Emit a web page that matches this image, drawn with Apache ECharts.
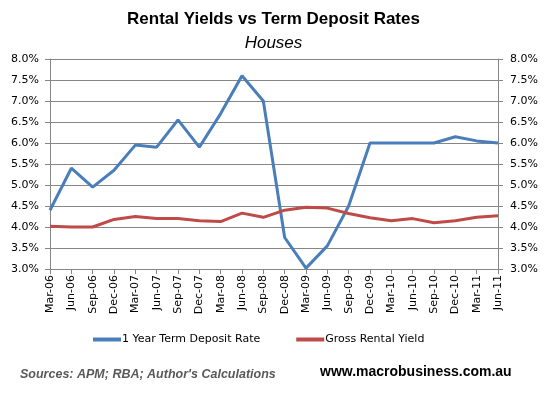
<!DOCTYPE html>
<html>
<head>
<meta charset="utf-8">
<script src="https://cdn.jsdelivr.net/npm/echarts@6/dist/echarts.min.js"></script>
<style>html,body{margin:0;padding:0;background:#fff}#c{width:547px;height:394px}</style>
</head>
<body>
<div id="c"></div>
<script>
var categories = ['Mar-06','Jun-06','Sep-06','Dec-06','Mar-07','Jun-07','Sep-07','Dec-07','Mar-08','Jun-08','Sep-08','Dec-08','Mar-09','Jun-09','Sep-09','Dec-09','Mar-10','Jun-10','Sep-10','Dec-10','Mar-11','Jun-11'];
var termDeposit = [4.4, 5.4, 4.95, 5.35, 5.95, 5.9, 6.55, 5.9, 6.7, 7.6, 7.0, 3.75, 3.02, 3.55, 4.5, 6.0, 6.0, 6.0, 6.0, 6.15, 6.05, 6.0];
var rentalYield = [4.02, 4.0, 4.0, 4.18, 4.25, 4.2, 4.2, 4.15, 4.13, 4.33, 4.23, 4.4, 4.47, 4.45, 4.32, 4.22, 4.15, 4.2, 4.1, 4.15, 4.23, 4.27];
var seriesNames = ['1 Year Term Deposit Rate', 'Gross Rental Yield'];

var font = 'Liberation Sans, Arial, sans-serif';
var axisFont = 'DejaVu Sans, Verdana, sans-serif';
var chart = echarts.init(document.getElementById('c'), null, {renderer: 'canvas'});
function yAxis(pos, showSplit) {
  return {
    type: 'value', position: pos, min: 3, max: 8, interval: 0.5,
    axisLine: {show: true, lineStyle: {color: '#868686', width: 1}},
    axisTick: {show: true, length: 5, lineStyle: {color: '#868686'}},
    axisLabel: {formatter: function (v) { return v.toFixed(1) + '%'; }, color: '#000', fontSize: 11, fontFamily: axisFont, margin: pos === 'left' ? 11 : 12},
    splitLine: {show: showSplit, lineStyle: {color: '#868686', width: 1}}
  };
}
chart.setOption({
  animation: false,
  title: [
    {text: 'Rental Yields vs Term Deposit Rates', left: 'center', top: 6, textStyle: {fontSize: 17, fontWeight: 'bold', color: '#000', fontFamily: font}},
    {text: 'Houses', left: 'center', top: 30, textStyle: {fontSize: 17, fontStyle: 'italic', fontWeight: 'normal', color: '#000', fontFamily: font}}
  ],
  grid: {left: 50, right: 49, top: 59, bottom: 125, containLabel: false},
  legend: {
    bottom: 44, left: 88, itemGap: 36, itemWidth: 28, itemHeight: 4, icon: 'rect',
    data: seriesNames,
    textStyle: {fontSize: 11, color: '#000', fontFamily: axisFont, padding: [0, 0, 0, -4]}
  },
  xAxis: {
    type: 'category', data: categories, boundaryGap: false,
    axisLine: {lineStyle: {color: '#868686'}},
    axisTick: {show: true, length: 5, lineStyle: {color: '#868686'}},
    axisLabel: {rotate: 90, interval: 0, color: '#000', fontSize: 11, fontFamily: axisFont, margin: 6}
  },
  yAxis: [yAxis('left', true), yAxis('right', false)],
  series: [
    {name: seriesNames[0], type: 'line', data: termDeposit, yAxisIndex: 0, symbol: 'none', lineStyle: {color: '#4A7EBB', width: 3}, itemStyle: {color: '#4A7EBB'}},
    {name: seriesNames[1], type: 'line', data: rentalYield, yAxisIndex: 0, symbol: 'none', lineStyle: {color: '#BE4B48', width: 3}, itemStyle: {color: '#BE4B48'}}
  ],
  graphic: [
    {type: 'text', left: 20, top: 368, style: {text: "Sources: APM; RBA; Author's Calculations", font: 'italic bold 12.5px ' + font, fill: '#595959'}},
    {type: 'text', left: 320, top: 365, style: {text: 'www.macrobusiness.com.au', font: 'bold 14px ' + font, fill: '#000'}}
  ]
});
</script>
</body>
</html>
